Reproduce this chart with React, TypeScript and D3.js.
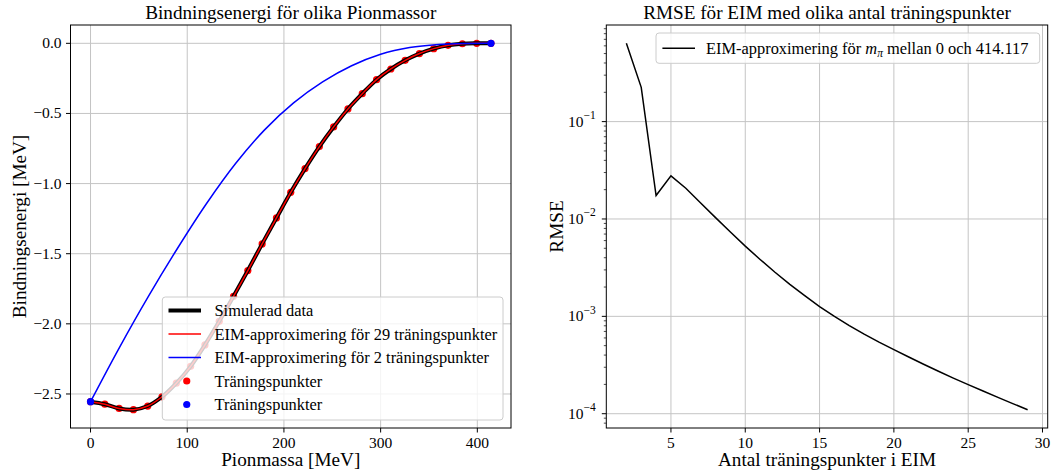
import React from 'react';
import * as d3 from 'd3';

// ---------- data ----------
const pionMass = [0, 14.79, 29.58, 44.37, 59.16, 73.95, 88.74, 103.53, 118.32, 133.11, 147.9, 162.69, 177.48, 192.27, 207.06, 221.85, 236.64, 251.43, 266.22, 281.01, 295.8, 310.59, 325.38, 340.17, 354.96, 369.75, 384.54, 399.33, 414.117];
const bindingEnergy = [-2.555, -2.573, -2.603, -2.612, -2.586, -2.52, -2.423, -2.303, -2.15, -1.982, -1.804, -1.62, -1.43, -1.245, -1.062, -0.893, -0.736, -0.596, -0.468, -0.359, -0.259, -0.183, -0.121, -0.073, -0.038, -0.014, -0.003, 0, 0];
const eim29Energy = [-2.555, -2.573, -2.603, -2.612, -2.586, -2.52, -2.423, -2.303, -2.15, -1.982, -1.804, -1.62, -1.43, -1.245, -1.062, -0.893, -0.736, -0.596, -0.468, -0.359, -0.259, -0.183, -0.121, -0.073, -0.038, -0.014, -0.003, 0, 0];
const eim2Mass = [0, 30, 60, 90, 120, 150, 180, 210, 240, 270, 300, 330, 360, 390, 414.117];
const eim2Energy = [-2.555, -2.167, -1.802, -1.461, -1.142, -0.857, -0.617, -0.425, -0.275, -0.16, -0.078, -0.03, -0.008, -0.001, 0];
const blueTrainMass = [0, 414.117];
const blueTrainEnergy = [-2.555, 0];

const numPoints = [2, 3, 4, 5, 6, 7, 8, 9, 10, 11, 12, 13, 14, 15, 16, 17, 18, 19, 20, 21, 22, 23, 24, 25, 26, 27, 28, 29];
const rmse = [0.637, 0.225, 0.0174, 0.0277, 0.0207, 0.01459, 0.01033, 0.00735, 0.00526, 0.00384, 0.00284, 0.00213, 0.00163, 0.00126, 0.001, 0.000804, 0.000656, 0.000543, 0.000455, 0.000382, 0.000322, 0.000273, 0.000232, 0.000199, 0.000171, 0.000147, 0.000127, 0.00011];

const leftXTicks = [0, 100, 200, 300, 400];
const leftYTicks = [0, -0.5, -1.0, -1.5, -2.0, -2.5];
const rightXTicks = [5, 10, 15, 20, 25, 30];
const rightYExponents = [-1, -2, -3, -4];

const legendLeft = [
  'Simulerad data',
  'EIM-approximering för 29 träningspunkter',
  'EIM-approximering för 2 träningspunkter',
  'Träningspunkter',
  'Träningspunkter',
];

// ---------- layout ----------
const W = 1060, H = 476;
const L = { x0: 70.5, x1: 511, y0: 25, y1: 428 };
const R = { x0: 606.3, x1: 1047.7, y0: 25, y1: 428 };
const FONT = "'Liberation Serif', 'DejaVu Serif', 'Times New Roman', serif";
const GRID = '#c4c4c4';
const TICK = 4.5;
const TICKFS = 15.5;
const LEGFS = 16.4;

export default function App() {
  // left scales
  const xMin = d3.min(pionMass)!, xMax = d3.max(pionMass)!;
  const xPad = (xMax - xMin) * 0.05;
  const xs = d3.scaleLinear().domain([xMin - xPad, xMax + xPad]).range([L.x0, L.x1]);
  const allY = [...bindingEnergy, ...eim2Energy];
  const yMin = d3.min(allY)!, yMax = d3.max(allY)!;
  const yPad = (yMax - yMin) * 0.05;
  const ys = d3.scaleLinear().domain([yMin - yPad, yMax + yPad]).range([L.y1, L.y0]);

  const line = d3.line<[number, number]>()
    .x(d => xs(d[0])).y(d => ys(d[1]))
    .curve(d3.curveCatmullRom.alpha(0.5));
  const simPath = line(pionMass.map((m, i) => [m, bindingEnergy[i]]))!;
  const eim29Path = line(pionMass.map((m, i) => [m, eim29Energy[i]]))!;
  const eim2Path = line(eim2Mass.map((m, i) => [m, eim2Energy[i]]))!;

  // right scales
  const nMin = d3.min(numPoints)!, nMax = d3.max(numPoints)!;
  const nPad = (nMax - nMin) * 0.05;
  const xr = d3.scaleLinear().domain([nMin - nPad, nMax + nPad]).range([R.x0, R.x1]);
  const lMin = Math.log10(d3.min(rmse)!), lMax = Math.log10(d3.max(rmse)!);
  const lPad = (lMax - lMin) * 0.05;
  const yr = d3.scaleLog().domain([Math.pow(10, lMin - lPad), Math.pow(10, lMax + lPad)]).range([R.y1, R.y0]);
  const rLine = d3.line<[number, number]>().x(d => xr(d[0])).y(d => yr(d[1]));
  const rmsePath = rLine(numPoints.map((n, i) => [n, rmse[i]]))!;

  const minorTicks: number[] = [];
  const [dlo, dhi] = yr.domain();
  for (let e = -6; e <= 1; e++) {
    for (let k = 2; k <= 9; k++) {
      const v = k * Math.pow(10, e);
      if (v >= dlo && v <= dhi) minorTicks.push(v);
    }
  }

  const fmt = d3.format('.1f');

  // legend left
  const lgL = { x0: 162.3, x1: 503, y0: 297, y1: 420 };
  const rowY = (i: number) => lgL.y0 + 13.5 + i * 23.5;
  const hx0 = 168.5, hx1 = 201, tx = 214.5;
  // legend right
  const lgR = { x0: 656, x1: 1039.7, y0: 33, y1: 63.3 };

  return (
    <svg width={W} height={H} style={{ position: 'absolute', left: 0, top: 0, background: '#fff' }} fontFamily={FONT}>
      <defs>
        <clipPath id="clipL"><rect x={L.x0} y={L.y0} width={L.x1 - L.x0} height={L.y1 - L.y0} /></clipPath>
        <clipPath id="clipR"><rect x={R.x0} y={R.y0} width={R.x1 - R.x0} height={R.y1 - R.y0} /></clipPath>
      </defs>
      <rect x={0} y={0} width={W} height={H} fill="#fff" />

      {/* ===== LEFT PLOT ===== */}
      <g>
        {leftXTicks.map(t => (
          <line key={'gx' + t} x1={xs(t)} x2={xs(t)} y1={L.y0} y2={L.y1} stroke={GRID} strokeWidth={1} />
        ))}
        {leftYTicks.map(t => (
          <line key={'gy' + t} x1={L.x0} x2={L.x1} y1={ys(t)} y2={ys(t)} stroke={GRID} strokeWidth={1} />
        ))}
        <g clipPath="url(#clipL)">
          {pionMass.map((m, i) => (
            <circle key={'rp' + i} cx={xs(m)} cy={ys(bindingEnergy[i])} r={3.6} fill="#ff0000" />
          ))}
          <path d={simPath} fill="none" stroke="#000" strokeWidth={4} strokeLinejoin="round" />
          <path d={eim29Path} fill="none" stroke="#ff0000" strokeWidth={1.5} />
          <path d={eim2Path} fill="none" stroke="#0000ff" strokeWidth={1.5} />
          {blueTrainMass.map((m, i) => (
            <circle key={'bp' + i} cx={xs(m)} cy={ys(blueTrainEnergy[i])} r={3.6} fill="#0000ff" />
          ))}
        </g>
        {/* legend */}
        <rect x={lgL.x0} y={lgL.y0} width={lgL.x1 - lgL.x0} height={lgL.y1 - lgL.y0} rx={3} fill="#fff" fillOpacity={0.8} stroke="#cccccc" strokeWidth={1} />
        <line x1={hx0} x2={hx1} y1={rowY(0)} y2={rowY(0)} stroke="#000" strokeWidth={4} />
        <line x1={hx0} x2={hx1} y1={rowY(1)} y2={rowY(1)} stroke="#ff0000" strokeWidth={1.5} />
        <line x1={hx0} x2={hx1} y1={rowY(2)} y2={rowY(2)} stroke="#0000ff" strokeWidth={1.5} />
        <circle cx={(hx0 + hx1) / 2 + 2} cy={rowY(3)} r={3.6} fill="#ff0000" />
        <circle cx={(hx0 + hx1) / 2 + 2} cy={rowY(4)} r={3.6} fill="#0000ff" />
        {legendLeft.map((s, i) => (
          <text key={'lt' + i} x={tx} y={rowY(i) + 5.5} fontSize={LEGFS} fill="#000">{s}</text>
        ))}
        {/* spines */}
        <rect x={L.x0} y={L.y0} width={L.x1 - L.x0} height={L.y1 - L.y0} fill="none" stroke="#000" strokeWidth={1} />
        {/* ticks */}
        {leftXTicks.map(t => (
          <g key={'tx' + t}>
            <line x1={xs(t)} x2={xs(t)} y1={L.y1} y2={L.y1 + TICK} stroke="#000" strokeWidth={1} />
            <text x={xs(t)} y={L.y1 + 19.5} textAnchor="middle" fontSize={TICKFS}>{String(t)}</text>
          </g>
        ))}
        {leftYTicks.map(t => (
          <g key={'ty' + t}>
            <line x1={L.x0 - TICK} x2={L.x0} y1={ys(t)} y2={ys(t)} stroke="#000" strokeWidth={1} />
            <text x={L.x0 - TICK - 4.5} y={ys(t) + 5} textAnchor="end" fontSize={TICKFS}>{fmt(t)}</text>
          </g>
        ))}
        <text x={(L.x0 + L.x1) / 2} y={19} textAnchor="middle" fontSize={19.2}>Bindningsenergi för olika Pionmassor</text>
        <text x={(L.x0 + L.x1) / 2} y={466} textAnchor="middle" fontSize={19.2}>Pionmassa [MeV]</text>
        <text transform={`translate(26,${(L.y0 + L.y1) / 2}) rotate(-90)`} textAnchor="middle" fontSize={19.2}>Bindningsenergi [MeV]</text>
      </g>

      {/* ===== RIGHT PLOT ===== */}
      <g>
        {rightXTicks.map(t => (
          <line key={'rgx' + t} x1={xr(t)} x2={xr(t)} y1={R.y0} y2={R.y1} stroke={GRID} strokeWidth={1} />
        ))}
        {rightYExponents.map(e => (
          <line key={'rgy' + e} x1={R.x0} x2={R.x1} y1={yr(Math.pow(10, e))} y2={yr(Math.pow(10, e))} stroke={GRID} strokeWidth={1} />
        ))}
        <g clipPath="url(#clipR)">
          <path d={rmsePath} fill="none" stroke="#000" strokeWidth={1.5} />
        </g>
        <rect x={lgR.x0} y={lgR.y0} width={lgR.x1 - lgR.x0} height={lgR.y1 - lgR.y0} rx={3} fill="#fff" fillOpacity={0.8} stroke="#cccccc" strokeWidth={1} />
        <line x1={662.4} x2={695} y1={(lgR.y0 + lgR.y1) / 2} y2={(lgR.y0 + lgR.y1) / 2} stroke="#000" strokeWidth={1.5} />
        <text x={706} y={(lgR.y0 + lgR.y1) / 2 + 5.5} fontSize={LEGFS}>
          EIM-approximering för <tspan fontStyle="italic">m</tspan>
          <tspan fontStyle="italic" fontSize={11.5} dy={3}>π</tspan>
          <tspan dy={-3}> mellan 0 och 414.117</tspan>
        </text>
        <rect x={R.x0} y={R.y0} width={R.x1 - R.x0} height={R.y1 - R.y0} fill="none" stroke="#000" strokeWidth={1} />
        {rightXTicks.map(t => (
          <g key={'rtx' + t}>
            <line x1={xr(t)} x2={xr(t)} y1={R.y1} y2={R.y1 + TICK} stroke="#000" strokeWidth={1} />
            <text x={xr(t)} y={R.y1 + 19.5} textAnchor="middle" fontSize={TICKFS}>{String(t)}</text>
          </g>
        ))}
        {minorTicks.map((v, i) => (
          <line key={'mt' + i} x1={R.x0 - 2.5} x2={R.x0} y1={yr(v)} y2={yr(v)} stroke="#000" strokeWidth={0.7} />
        ))}
        {rightYExponents.map(e => (
          <g key={'rty' + e}>
            <line x1={R.x0 - TICK} x2={R.x0} y1={yr(Math.pow(10, e))} y2={yr(Math.pow(10, e))} stroke="#000" strokeWidth={1} />
            <text x={R.x0 - TICK - 6} y={yr(Math.pow(10, e)) + 5} textAnchor="end" fontSize={TICKFS}>
              10<tspan fontSize={11.5} dy={-7.5}>{'\u2212' + String(-e)}</tspan>
            </text>
          </g>
        ))}
        <text x={(R.x0 + R.x1) / 2} y={19} textAnchor="middle" fontSize={19.2}>RMSE för EIM med olika antal träningspunkter</text>
        <text x={(R.x0 + R.x1) / 2} y={466} textAnchor="middle" fontSize={19.2}>Antal träningspunkter i EIM</text>
        <text transform={`translate(563,${(R.y0 + R.y1) / 2}) rotate(-90)`} textAnchor="middle" fontSize={19.2}>RMSE</text>
      </g>
    </svg>
  );
}
